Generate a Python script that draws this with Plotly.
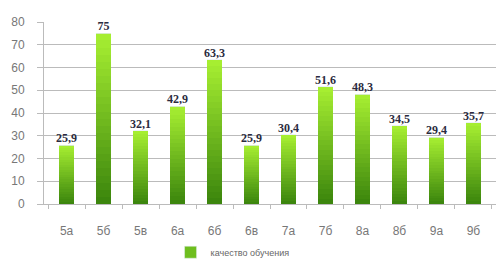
import plotly.graph_objects as go

categories = ["5а", "5б", "5в", "6а", "6б", "6в", "7а", "7б", "8а", "8б", "9а", "9б"]
values = [25.9, 75, 32.1, 42.9, 63.3, 25.9, 30.4, 51.6, 48.3, 34.5, 29.4, 35.7]
value_labels = ["25,9", "75", "32,1", "42,9", "63,3", "25,9", "30,4", "51,6", "48,3", "34,5", "29,4", "35,7"]
series_name = "качество обучения"
y_ticks = [0, 10, 20, 30, 40, 50, 60, 70, 80]

bottom_rgb = (58, 132, 12)
top_rgb = (168, 240, 50)
steps = 24

fig = go.Figure()
for i in range(steps):
    t = (i + 0.5) / steps
    rgb = tuple(round(b + (c - b) * t) for b, c in zip(bottom_rgb, top_rgb))
    fig.add_trace(go.Bar(
        x=categories,
        y=[v / steps for v in values],
        marker=dict(color="rgb(%d,%d,%d)" % rgb, line=dict(width=0)),
        showlegend=False,
        hoverinfo="skip",
    ))

# legend entry
fig.add_trace(go.Bar(
    x=categories, y=[0] * len(categories), name=series_name,
    marker=dict(color="rgb(110,190,30)"), showlegend=True, hoverinfo="skip",
))

fig.add_trace(go.Scatter(
    x=categories, y=values, mode="text", text=value_labels,
    textposition="top center", cliponaxis=False,
    textfont=dict(family="Liberation Serif", size=12, color="#2b2b40", weight="bold"),
    showlegend=False, hoverinfo="skip",
))

fig.update_layout(
    width=497, height=268,
    margin=dict(l=44, r=1, t=22, b=56),
    barmode="stack", bargap=0.58,
    plot_bgcolor="white", paper_bgcolor="white",
    showlegend=True,
    legend=dict(x=0.28, y=-0.265, xanchor="left", yanchor="middle",
                orientation="h", font=dict(family="Liberation Sans", size=9, color="#666666"),
                itemwidth=30, bgcolor="rgba(0,0,0,0)"),
    font=dict(family="Liberation Sans"),
)
fig.update_xaxes(
    showline=True, linecolor="#bbbbbb", linewidth=1,
    ticks="outside", tickson="boundaries", ticklen=4, tickcolor="#bbbbbb",
    tickfont=dict(size=12, color="#777777"), ticklabelstandoff=16,
    showgrid=False,
)
fig.update_yaxes(
    range=[0, 80], tickvals=y_ticks,
    showline=True, linecolor="#bbbbbb", linewidth=1,
    ticks="outside", ticklen=6, tickcolor="#bbbbbb",
    showgrid=True, gridcolor="#bbbbbb", gridwidth=1,
    tickfont=dict(size=12, color="#777777"), ticklabelstandoff=10,
    zeroline=False,
)

fig.write_html("out.html", config={"displayModeBar": False},
               post_script="document.body.style.margin='0';")
